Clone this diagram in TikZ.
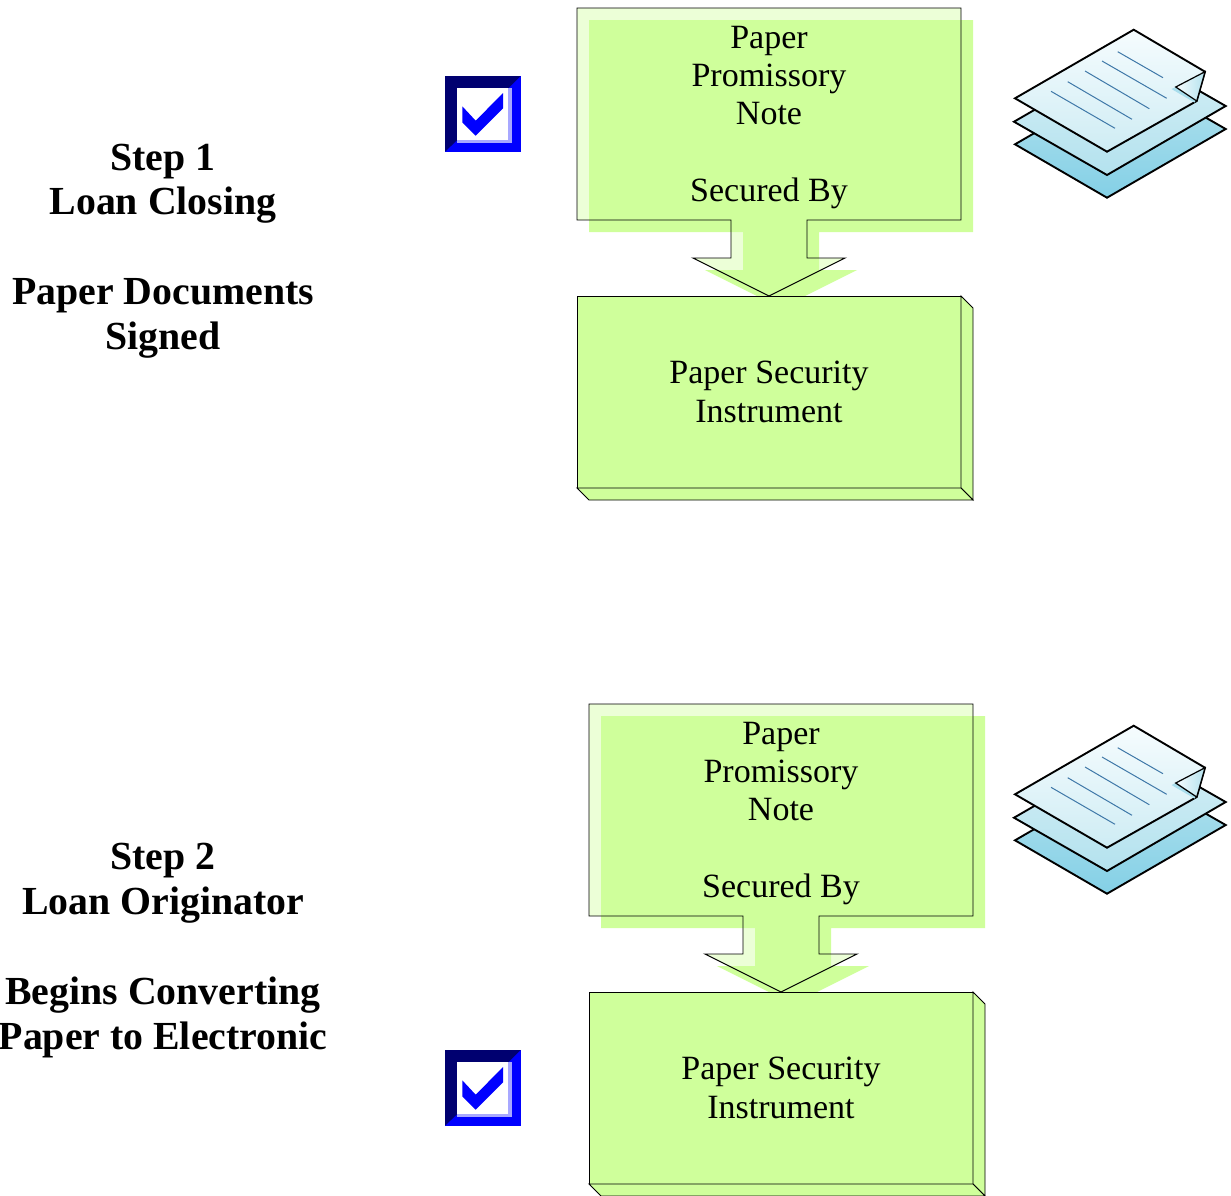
\documentclass[tikz,border=0pt]{standalone}
\usepackage{fontspec}
\setmainfont{Liberation Serif}
\usetikzlibrary{calc}
\definecolor{boxgreen}{HTML}{CFFF9B}
\definecolor{sheetdark}{HTML}{84D0E6}
\definecolor{sheetmid}{HTML}{B4E2EE}
\definecolor{sheetlight}{HTML}{F6FCFE}
\definecolor{lineblue}{HTML}{3F78A8}
\definecolor{navy}{HTML}{000070}
\definecolor{chkblue}{HTML}{0000FF}
\definecolor{chkpale}{HTML}{A8A8FF}
\tikzset{
  edgeline/.style={draw=black,line width=0.95pt,line join=miter},
  boxlabel/.style={align=center,inner sep=0pt,font=\fontsize{34}{38.3}\selectfont},
  steplabel/.style={align=center,inner sep=0pt,font=\fontsize{39.8}{44.8}\selectfont\bfseries},
  solidbox/.style={edgeline,fill=boxgreen,minimum width=384pt,minimum height=192pt,inner sep=0pt,outer sep=0pt,anchor=north west},
  sheet/.style={draw=black,line width=1.9pt,line join=miter},
  textrule/.style={draw=lineblue,line width=1pt},
  pics/flowunit/.style={code={
    % callout shadow
    \path[fill=boxgreen] (12,12) -- (396,12) -- (396,224) -- (242,224) -- (242,262) -- (280,262) -- (204,300) -- (128,262) -- (166,262) -- (166,224) -- (12,224) -- cycle;
    % callout, translucent over its shadow
    \path[edgeline,fill=boxgreen,fill opacity=.4] (0,0) -- (384,0) -- (384,212) -- (230,212) -- (230,250) -- (268,250) -- (192,288) -- (116,250) -- (154,250) -- (154,212) -- (0,212) -- cycle;
    % lower block
    \node[solidbox] (-lower) at (0,288) {};
    \path[edgeline,fill=boxgreen] (-lower.north east) -- ++(12,12) -- ++(0,192) -- ++(-12,-12) -- cycle;
    \path[edgeline,fill=boxgreen] (-lower.south west) -- ++(12,12) -- ++(384,0) -- ++(-12,-12) -- cycle;
    \node[boxlabel] (-note) at (192,109.5) {Paper\\Promissory\\Note\\ \\Secured By};
    \node[boxlabel] (-sec) at (-lower.center) {Paper Security\\Instrument};
  }},
  pics/paperstack/.style={code={
    \path[sheet,top color=sheetmid,bottom color=sheetdark] (1015,144.3) -- (1107,197.7) -- (1225.7,129) -- (1133,76) -- cycle;
    \path[sheet,top color=sheetlight!50!sheetmid,bottom color=sheetmid] (1014,121.7) -- (1107,175) -- (1225.7,106) -- (1133,53) -- cycle;
    \path[sheet,top color=sheetlight,bottom color=sheetmid!65!white] (1015,98.3) -- (1133.7,29.7) -- (1205,71.7) -- (1196.7,101) -- (1107,151.7) -- cycle;
    \path[fill=sheetdark!70!white] (1171.5,89) -- (1175.7,87) -- (1196.7,99) -- (1194.5,102.5) -- cycle;
    \path[sheet,line width=1.2pt,left color=sheetlight,right color=sheetmid] (1175.7,87) -- (1205,71.7) -- (1196.7,101) -- cycle;
    \draw[textrule] (1051,91.3) -- (1115,128.3);
    \draw[textrule] (1067.7,81.7) -- (1132,119.3);
    \draw[textrule] (1085,71) -- (1149.3,108.7);
    \draw[textrule] (1102,61) -- (1166.7,98.3);
    \draw[textrule] (1117.7,51.7) -- (1163,77.7);
  }},
  pics/checkbox/.style={code={
    \fill[chkblue] (0,0) rectangle (75.7,75.7);
    \fill[navy] (0,0) -- (75.7,0) -- (63.3,12.3) -- (12.3,12.3) -- (12.3,64) -- (0,75.7) -- cycle;
    \fill[chkpale] (12.3,12.3) rectangle (66.5,66.5);
    \fill[white] (12.3,12.3) rectangle (63.3,64);
    \fill[chkblue] (17.3,30.3) -- (30.7,44.7) -- (58,17) -- (58,32.3) -- (30.7,59.7) -- (17.3,46.3) -- cycle;
  }}
}
\begin{document}
\begin{tikzpicture}[x=1pt,y=-1pt]
\useasboundingbox (0,0) rectangle (1231,1195);
\begin{scope}
\clip (0,0) rectangle (1231,1195);
\pic (u1) at (577,8) {flowunit};
\pic (u2) at (589,704) {flowunit};
\pic (s1) at (0,0) {paperstack};
\pic (s2) at (0,696) {paperstack};
\pic (c1) at (445,76) {checkbox};
\pic (c2) at (445,1050) {checkbox};
\end{scope}
\node[steplabel] (step1) at (163,251) {Step 1\\Loan Closing\\ \\Paper Documents\\Signed};
\node[steplabel] (step2) at (163,950.5) {Step 2\\Loan Originator\\ \\Begins Converting\\Paper to Electronic};
\end{tikzpicture}
\end{document}
